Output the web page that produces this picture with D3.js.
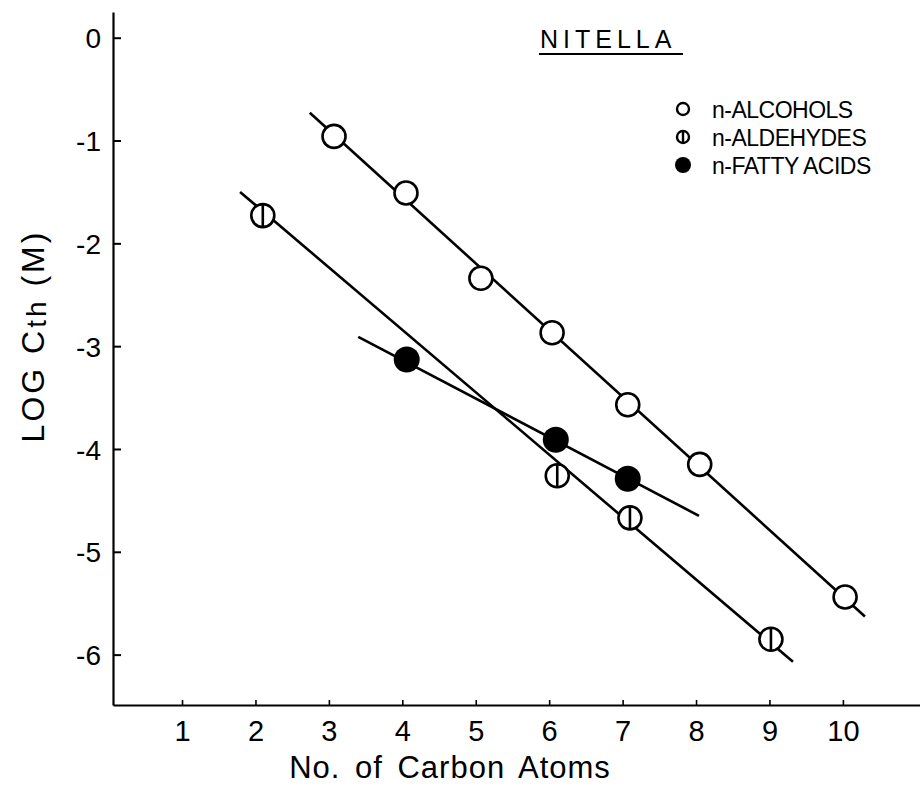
<!DOCTYPE html>
<html>
<head>
<meta charset="utf-8">
<script src="https://cdn.jsdelivr.net/npm/d3@7"></script>
<style>
  body { margin: 0; background: #fff; }
  text { font-family: "Liberation Sans", "DejaVu Sans", sans-serif; fill: #000; }
</style>
</head>
<body>
<div id="chart"></div>
<script>
// Values (x = no. of carbon atoms, y = log Cth)
const alcoholX = [3.07, 4.05, 5.07, 6.04, 7.07, 8.05, 10.03];
const alcoholY = [-0.96, -1.51, -2.34, -2.87, -3.57, -4.15, -5.44];
const aldehydeX = [2.1, 6.11, 7.1, 9.02];
const aldehydeY = [-1.73, -4.26, -4.67, -5.85];
const acidX = [4.06, 6.09, 7.07];
const acidY = [-3.13, -3.91, -4.29];

// Fitted lines drawn through each series (end points)
const lineAlcohol = [[2.74, -0.73], [10.3, -5.63]];
const lineAldehyde = [[1.79, -1.5], [9.32, -6.07]];
const lineAcid = [[3.4, -2.91], [8.04, -4.65]];

const xTicks = [1, 2, 3, 4, 5, 6, 7, 8, 9, 10];
const yTicks = [0, -1, -2, -3, -4, -5, -6];
const legendLabels = ["n-ALCOHOLS", "n-ALDEHYDES", "n-FATTY ACIDS"];

const width = 920, height = 790;

const x = d3.scaleLinear().domain([0.06, 11.05]).range([113, 920]);
const y = d3.scaleLinear().domain([-6.49, 0.25]).range([705, 12]);

const svg = d3.select("#chart").append("svg")
  .attr("width", width)
  .attr("height", height);

// Axes
const yAxis = svg.append("g")
  .attr("transform", "translate(" + x(0.06) + ",0)")
  .call(d3.axisRight(y).tickValues(yTicks).tickSize(8).tickSizeOuter(0).tickFormat(d => d));
yAxis.select(".domain").attr("stroke-width", 2.2);
yAxis.selectAll(".tick line").attr("stroke-width", 2);
yAxis.selectAll(".tick text")
  .attr("x", -12)
  .attr("text-anchor", "end")
  .attr("dy", "0.36em")
  .style("font-size", "28px");

const xAxis = svg.append("g")
  .attr("transform", "translate(0," + y(-6.49) + ")")
  .call(d3.axisTop(x).tickValues(xTicks).tickSize(5).tickSizeOuter(0));
xAxis.select(".domain").attr("stroke-width", 2.2);
xAxis.selectAll(".tick line").attr("stroke-width", 1.6);
xAxis.selectAll(".tick text")
  .attr("y", 36)
  .attr("dy", null)
  .style("font-size", "29px");
svg.selectAll(".tick text").attr("font-family", null);

// Axis titles
svg.append("text")
  .attr("x", 450)
  .attr("y", 778)
  .attr("text-anchor", "middle")
  .style("font-size", "31px")
  .style("letter-spacing", "1px")
  .style("word-spacing", "5px")
  .text("No. of Carbon Atoms");

const yTitle = svg.append("text")
  .attr("transform", "translate(44,336) rotate(-90)")
  .attr("text-anchor", "middle")
  .style("font-size", "32px")
  .style("letter-spacing", "3px");
yTitle.append("tspan").text("LOG  C");
yTitle.append("tspan").attr("dy", 2).style("font-size", "28px").text("th");
yTitle.append("tspan").attr("dy", -2).text("  (M)");

// Fitted lines
const lineGen = d3.line().x(d => x(d[0])).y(d => y(d[1]));
[lineAlcohol, lineAldehyde, lineAcid].forEach(l => {
  svg.append("path")
    .attr("d", lineGen(l))
    .attr("fill", "none")
    .attr("stroke", "#000")
    .attr("stroke-width", 2.6);
});

// Points
const r = 11.5;
const alcohols = alcoholX.map((d, i) => ({ x: d, y: alcoholY[i] }));
const aldehydes = aldehydeX.map((d, i) => ({ x: d, y: aldehydeY[i] }));
const acids = acidX.map((d, i) => ({ x: d, y: acidY[i] }));

svg.selectAll(".alc")
  .data(alcohols)
  .enter().append("circle")
  .attr("class", "alc")
  .attr("cx", d => x(d.x))
  .attr("cy", d => y(d.y))
  .attr("r", r)
  .attr("fill", "#fff")
  .attr("stroke", "#000")
  .attr("stroke-width", 2.6);

const ald = svg.selectAll(".ald")
  .data(aldehydes)
  .enter().append("g")
  .attr("class", "ald")
  .attr("transform", d => "translate(" + x(d.x) + "," + y(d.y) + ")");
ald.append("circle")
  .attr("r", r)
  .attr("fill", "#fff")
  .attr("stroke", "#000")
  .attr("stroke-width", 2.6);
ald.append("line")
  .attr("y1", -r).attr("y2", r)
  .attr("stroke", "#000")
  .attr("stroke-width", 2.6);

svg.selectAll(".acid")
  .data(acids)
  .enter().append("circle")
  .attr("class", "acid")
  .attr("cx", d => x(d.x))
  .attr("cy", d => y(d.y))
  .attr("r", r + 1.5)
  .attr("fill", "#000");

// Title
svg.append("text")
  .attr("x", 540)
  .attr("y", 48)
  .style("font-size", "25px")
  .style("letter-spacing", "5px")
  .text("NITELLA");
svg.append("line")
  .attr("x1", 539).attr("x2", 683)
  .attr("y1", 54).attr("y2", 54)
  .attr("stroke", "#000")
  .attr("stroke-width", 2);

// Legend
const legend = svg.append("g").attr("transform", "translate(683,109)");
const rowH = 28;
legend.append("circle")
  .attr("r", 6).attr("fill", "#fff").attr("stroke", "#000").attr("stroke-width", 2.4);
legend.append("circle")
  .attr("cy", rowH).attr("r", 6).attr("fill", "#fff").attr("stroke", "#000").attr("stroke-width", 2.4);
legend.append("line")
  .attr("y1", rowH - 6).attr("y2", rowH + 6).attr("stroke", "#000").attr("stroke-width", 2.4);
legend.append("circle")
  .attr("cy", rowH * 2).attr("r", 8).attr("fill", "#000");
legend.selectAll(".lab")
  .data(legendLabels)
  .enter().append("text")
  .attr("class", "lab")
  .attr("x", 29)
  .attr("y", (d, i) => i * rowH + 9)
  .style("font-size", "23px")
  .style("letter-spacing", "-0.5px")
  .text(d => d);
</script>
</body>
</html>
